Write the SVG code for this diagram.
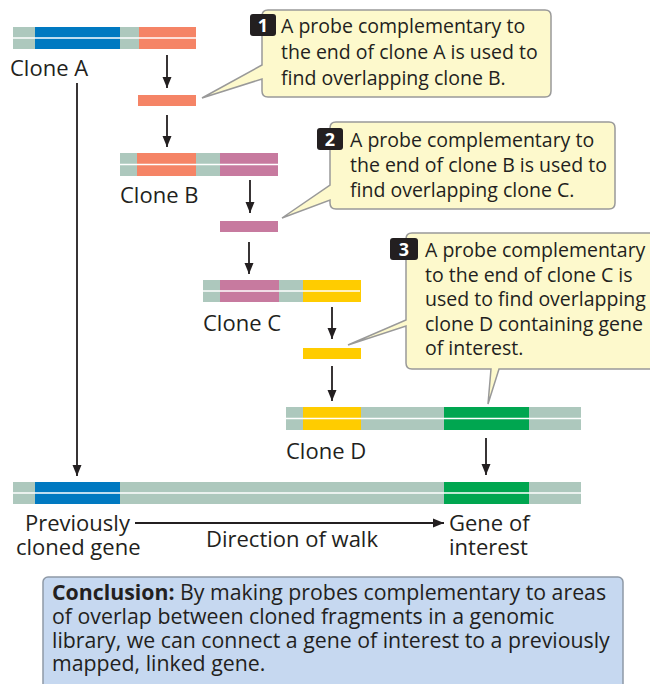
<svg xmlns="http://www.w3.org/2000/svg" width="650" height="684" viewBox="0 0 650 684">
<defs>
<marker id="ah" markerUnits="userSpaceOnUse" markerWidth="12" markerHeight="10" refX="11" refY="5" orient="auto">
<path d="M0,0.5 L11,5 L0,9.5 Z" fill="#231f20"/>
</marker>
<style>
text{font-family:"Open Sans","Liberation Sans",sans-serif;fill:#231f20}
.lbl{font-size:22px}
.co{font-size:19.5px}
.cn{font-size:21.3px}
.b{font-weight:bold}
.num{font-size:18px;font-weight:bold;fill:#fff}
.badge{fill:#231f20}
.t{fill:#adc8bd}
.bl{fill:#0079c1}
.or{fill:#f58466}
.pk{fill:#c77a9f}
.ye{fill:#ffcc00}
.gr{fill:#00a650}
.sep{stroke:#fff;stroke-width:1.5}
.call{fill:#fdf9cc;stroke:#999;stroke-width:1.5}
.arr{stroke:#231f20;stroke-width:1.8;fill:none;marker-end:url(#ah)}
</style>
</defs>
<rect width="650" height="684" fill="#fff"/>

<g id="cloneA">
<rect class="t" x="13" y="27" width="22" height="22"/>
<rect class="bl" x="35" y="27" width="85" height="22"/>
<rect class="t" x="120" y="27" width="19" height="22"/>
<rect class="or" x="139" y="27" width="57" height="22"/>
<line class="sep" x1="13" y1="38" x2="196" y2="38"/>
<text class="lbl" x="10" y="76">Clone A</text>
</g>
<g id="probeA"><rect class="or" x="138" y="95" width="58" height="11"/></g>

<g id="cloneB">
<rect class="t" x="120" y="153" width="17" height="23"/>
<rect class="or" x="137" y="153" width="59" height="23"/>
<rect class="t" x="196" y="153" width="24" height="23"/>
<rect class="pk" x="220" y="153" width="58" height="23"/>
<line class="sep" x1="120" y1="164.5" x2="278" y2="164.5"/>
<text class="lbl" x="120" y="203">Clone B</text>
</g>
<g id="probeB"><rect class="pk" x="220" y="221" width="58" height="11"/></g>

<g id="cloneC">
<rect class="t" x="203" y="280" width="17" height="22"/>
<rect class="pk" x="220" y="280" width="59" height="22"/>
<rect class="t" x="279" y="280" width="24" height="22"/>
<rect class="ye" x="303" y="280" width="58" height="22"/>
<line class="sep" x1="203" y1="291" x2="360" y2="291"/>
<text class="lbl" x="203" y="331">Clone C</text>
</g>
<g id="probeC"><rect class="ye" x="303" y="348" width="58" height="11"/></g>

<g id="cloneD">
<rect class="t" x="286" y="407" width="17" height="23"/>
<rect class="ye" x="303" y="407" width="58" height="23"/>
<rect class="t" x="361" y="407" width="83" height="23"/>
<rect class="gr" x="444" y="407" width="85" height="23"/>
<rect class="t" x="529" y="407" width="52" height="23"/>
<line class="sep" x1="286" y1="418.5" x2="581" y2="418.5"/>
<text class="lbl" x="286" y="459">Clone D</text>
</g>

<g id="genome">
<rect class="t" x="13" y="482" width="22" height="22"/>
<rect class="bl" x="35" y="482" width="85" height="22"/>
<rect class="t" x="120" y="482" width="324" height="22"/>
<rect class="gr" x="444" y="482" width="85" height="22"/>
<rect class="t" x="529" y="482" width="52" height="22"/>
<line class="sep" x1="13" y1="493" x2="581" y2="493"/>
</g>

<g id="labels">
<text class="lbl" x="25" y="531">Previously</text>
<text class="lbl" x="16" y="555">cloned gene</text>
<text class="lbl" x="292" y="547" text-anchor="middle">Direction of walk</text>
<text class="lbl" x="449" y="531">Gene of</text>
<text class="lbl" x="449" y="555">interest</text>
</g>

<g id="connectors">
<line class="arr" x1="167" y1="55" x2="167" y2="88"/>
<line class="arr" x1="167" y1="115" x2="167" y2="147"/>
<line class="arr" x1="250" y1="180" x2="250" y2="213"/>
<line class="arr" x1="249" y1="242" x2="249" y2="274"/>
<line class="arr" x1="332" y1="307" x2="332" y2="339"/>
<line class="arr" x1="332" y1="366" x2="332" y2="401"/>
<line class="arr" x1="486" y1="438" x2="486" y2="475"/>
<line class="arr" x1="77" y1="83" x2="77" y2="476"/>
<line class="arr" x1="135" y1="523" x2="444" y2="523"/>
</g>

<g id="callout1">
<path class="call" d="M268,10 H545 Q551,10 551,16 V91 Q551,97 545,97 H268 Q262,97 262,91 V79 L202,98 L262,65 V16 Q262,10 268,10 Z"/>
<rect class="badge" x="250" y="14" width="26" height="22" rx="3"/>
<text class="num" x="263" y="32" text-anchor="middle">1</text>
<text class="co" x="281" y="33">A probe complementary to</text>
<text class="co" x="281" y="59">the end of clone A is used to</text>
<text class="co" x="281" y="85">find overlapping clone B.</text>
</g>

<g id="callout2">
<path class="call" d="M336,122 H609 Q615,122 615,128 V203 Q615,209 609,209 H336 Q330,209 330,203 V200 L282,218 L330,185 V128 Q330,122 336,122 Z"/>
<rect class="badge" x="317" y="128" width="26" height="22" rx="3"/>
<text class="num" x="330" y="146" text-anchor="middle">2</text>
<text class="co" x="350" y="147">A probe complementary to</text>
<text class="co" x="350" y="172">the end of clone B is used to</text>
<text class="co" x="350" y="197">find overlapping clone C.</text>
</g>

<g id="callout3">
<path class="call" d="M412,233 H670 V369 H499 L488,404 L491,369 H412 Q406,369 406,363 V326 L348,345 L406,320 V239 Q406,233 412,233 Z"/>
<rect class="badge" x="390" y="238" width="28" height="22" rx="3"/>
<text class="num" x="404" y="256" text-anchor="middle">3</text>
<text class="co" x="425" y="257">A probe complementary</text>
<text class="co" x="425" y="282">to the end of clone C is</text>
<text class="co" x="425" y="306">used to find overlapping</text>
<text class="co" x="425" y="331">clone D containing gene</text>
<text class="co" x="425" y="355">of interest.</text>
</g>

<g id="conclusion">
<rect x="43" y="577" width="580" height="120" rx="5" fill="#c6d8f0" stroke="#8e99a6" stroke-width="1.5"/>
<text class="cn" x="52" y="600"><tspan class="b">Conclusion:</tspan> By making probes complementary to areas</text>
<text class="cn" x="52" y="624">of overlap between cloned fragments in a genomic</text>
<text class="cn" x="52" y="648">library, we can connect a gene of interest to a previously</text>
<text class="cn" x="52" y="671">mapped, linked gene.</text>
</g>
</svg>
